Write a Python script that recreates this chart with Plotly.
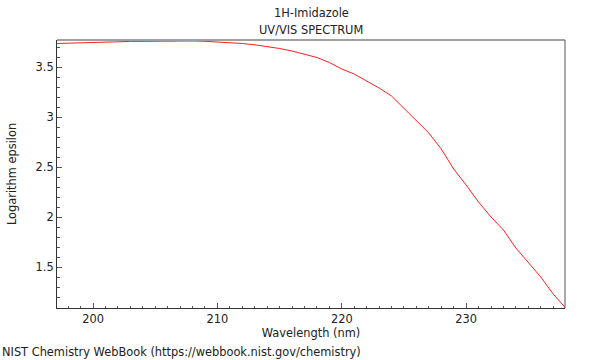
import plotly.graph_objects as go

wavelength_nm = [197, 198, 199, 200, 201, 202, 203, 204, 205, 206, 207, 208, 209, 210,
                 211, 212, 213, 214, 215, 216, 217, 218, 219, 220, 221, 222, 223, 224,
                 225, 226, 227, 228, 229, 230, 231, 232, 233, 234, 235, 236, 237, 238]
log_epsilon = [3.735, 3.737, 3.739, 3.742, 3.748, 3.752, 3.756, 3.758, 3.760, 3.761, 3.761,
               3.760, 3.757, 3.752, 3.745, 3.735, 3.722, 3.705, 3.685, 3.660, 3.630, 3.595,
               3.545, 3.48, 3.43, 3.36, 3.29, 3.21, 3.09, 2.97, 2.84, 2.68, 2.48, 2.32,
               2.15, 2.00, 1.87, 1.69, 1.54, 1.40, 1.23, 1.09]
x_ticks = [200, 210, 220, 230]
y_ticks = [1.5, 2, 2.5, 3, 3.5]
y_tick_labels = ["1.5", "2", "2.5", "3", "3.5"]

FONT = "DejaVu Sans"
TXT = "#222"
FS = 11.4

fig = go.Figure(go.Scatter(x=wavelength_nm, y=log_epsilon, mode="lines",
                           line=dict(color="#ff2020", width=1), showlegend=False,
                           hoverinfo="skip"))

fig.update_layout(
    width=600, height=360,
    margin=dict(l=57, r=35, t=40, b=52, autoexpand=False),
    paper_bgcolor="white", plot_bgcolor="white",
    font=dict(family=FONT, size=FS, color=TXT),
)
fig.update_xaxes(range=[197.1, 237.95], tickvals=x_ticks, ticks="inside", ticklen=5,
                 tickcolor="#555", showgrid=False, zeroline=False, showline=True,
                 linecolor="#333", linewidth=1, mirror=False,
                 minor=dict(dtick=1, ticks="inside", ticklen=2, tickcolor="#555"),
                 title=dict(text="Wavelength (nm)", standoff=4, font=dict(size=FS)),
                 tickfont=dict(size=FS))
fig.update_yaxes(range=[1.09, 3.77], tickvals=y_ticks, ticktext=y_tick_labels,
                 ticks="inside", ticklen=5, tickcolor="#555", showgrid=False,
                 zeroline=False, showline=True, linecolor="#333", linewidth=1,
                 minor=dict(dtick=0.1, ticks="inside", ticklen=3, tickcolor="#555"),
                 title=dict(text="Logarithm epsilon", standoff=16, font=dict(size=FS)),
                 tickfont=dict(size=FS))

# frame: grey top, dark right edge
fig.add_shape(type="line", xref="paper", yref="paper", x0=0, x1=1, y0=1, y1=1,
              line=dict(color="#a0a0a0", width=2))
fig.add_shape(type="line", xref="paper", yref="paper", x0=1, x1=1, y0=0, y1=1,
              line=dict(color="#555", width=1))

# two-line title
fig.add_annotation(text="1H-Imidazole", xref="paper", yref="paper", x=0.5, y=1.1007,
                   xanchor="center", yanchor="middle", showarrow=False,
                   font=dict(family=FONT, size=FS, color=TXT))
fig.add_annotation(text="UV/VIS SPECTRUM", xref="paper", yref="paper", x=0.5, y=1.0373,
                   xanchor="center", yanchor="middle", showarrow=False,
                   font=dict(family=FONT, size=FS, color=TXT))

fig.add_annotation(text="NIST Chemistry WebBook (https://webbook.nist.gov/chemistry)",
                   xref="paper", yref="paper", x=-57/508, y=-(352 - 308) / 268,
                   xanchor="left", yanchor="middle", showarrow=False,
                   font=dict(family=FONT, size=FS, color=TXT))

fig.write_html("out.html", config={"displayModeBar": False},
               post_script="document.body.style.margin='0';")
